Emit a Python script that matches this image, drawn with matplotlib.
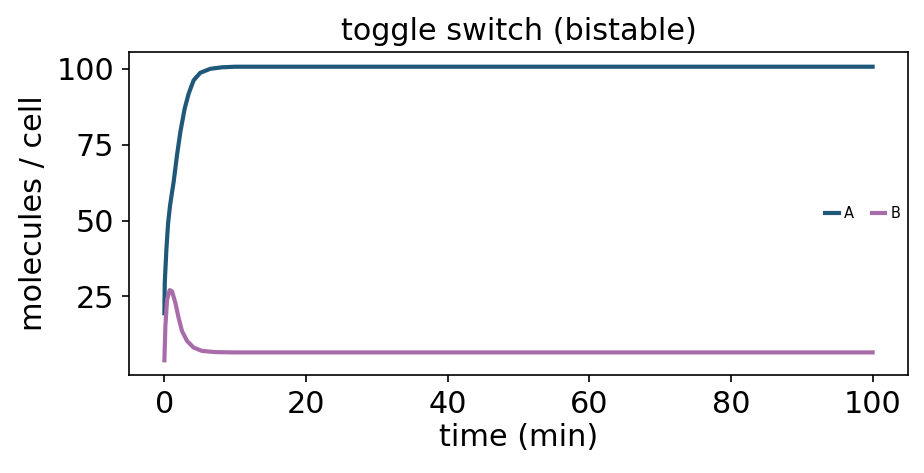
import matplotlib
matplotlib.use("Agg")
import matplotlib.pyplot as plt

# values
t_a = [0.0, 0.05, 0.28, 0.52, 0.8, 1.31, 1.78, 2.25, 2.86, 3.42, 4.12, 5.06, 6.47, 8.1, 10.0, 20.0, 100.0]
a = [19.5, 29.5, 40.4, 49.1, 55.0, 62.8, 71.5, 79.1, 86.8, 91.7, 96.1, 98.6, 99.9, 100.4, 100.6, 100.6, 100.6]

t_b = [0.0, 0.14, 0.38, 0.75, 1.08, 1.55, 2.0, 2.49, 3.19, 4.12, 5.3, 7.2, 10.0, 100.0]
b = [4.0, 15.3, 24.0, 27.1, 26.7, 22.9, 18.0, 13.6, 10.4, 8.2, 7.1, 6.7, 6.6, 6.6]

col_a = "#1f5878"
col_b = "#a86ca8"

fig = plt.figure(figsize=(924 / 150, 473 / 150), dpi=150)
ax = fig.add_axes([0.1396, 0.2072, 0.8431, 0.6828])

ax.plot(t_a, a, color=col_a, lw=2.0, label="A")
ax.plot(t_b, b, color=col_b, lw=2.0, label="B")

ax.set_title("toggle switch (bistable)", fontsize=14.5)
ax.set_xlabel("time (min)", fontsize=14.5, labelpad=2)
ax.set_ylabel("molecules / cell", fontsize=14.5)
ax.set_xticks([0, 20, 40, 60, 80, 100])
ax.set_yticks([25, 50, 75, 100])
ax.tick_params(labelsize=14.5)

ax.legend(loc="center right", ncol=2, frameon=False, fontsize=7,
          handlelength=0.9, handletextpad=0.4, columnspacing=1.2,
          borderaxespad=0.1)

fig.savefig("out.png", dpi=150)
